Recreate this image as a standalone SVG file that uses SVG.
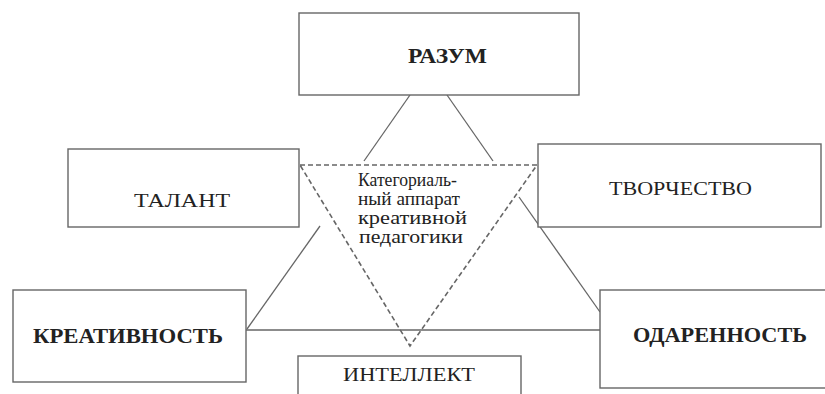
<svg xmlns="http://www.w3.org/2000/svg" width="825" height="394" viewBox="0 0 825 394" font-family="Liberation Serif">
<style>
.box{fill:#fff;stroke:#666;stroke-width:1.4}
.ln{stroke:#666;stroke-width:1.3;fill:none}
.tri{fill:none;stroke:#666;stroke-width:1.6;stroke-dasharray:5,3}
.t{fill:#222}
.b{font-weight:bold;font-size:20px}
.r{font-size:19px}
.c{font-size:18px}
</style>
<rect width="825" height="394" fill="#fff"/>
<g id="connectors">
<line class="ln" x1="410" y1="95" x2="364" y2="161"/>
<line class="ln" x1="320" y1="226" x2="247" y2="329"/>
<line class="ln" x1="447" y1="95" x2="493" y2="161"/>
<line class="ln" x1="519" y1="197" x2="600" y2="312"/>
<line class="ln" x1="246" y1="330" x2="600" y2="330"/>
</g>
<g id="razum">
<rect class="box" x="299" y="13" width="280" height="82"/>
<text class="t b" font-family="Liberation Serif" x="408" y="63" textLength="79" lengthAdjust="spacingAndGlyphs">РАЗУМ</text>
</g>
<g id="talant">
<rect class="box" x="68" y="149" width="231" height="78"/>
<text class="t r" font-family="Liberation Serif" x="134" y="207" textLength="96" lengthAdjust="spacingAndGlyphs">ТАЛАНТ</text>
</g>
<g id="tvorchestvo">
<rect class="box" x="538" y="144" width="283" height="83"/>
<text class="t r" font-family="Liberation Serif" x="609" y="195" textLength="143" lengthAdjust="spacingAndGlyphs">ТВОРЧЕСТВО</text>
</g>
<g id="kreativnost">
<rect class="box" x="13" y="290" width="233" height="92"/>
<text class="t b" font-family="Liberation Serif" x="33" y="343" textLength="190" lengthAdjust="spacingAndGlyphs">КРЕАТИВНОСТЬ</text>
</g>
<g id="intellekt">
<rect class="box" x="298" y="356" width="223" height="50"/>
<text class="t r" font-family="Liberation Serif" x="343" y="381" textLength="132" lengthAdjust="spacingAndGlyphs">ИНТЕЛЛЕКТ</text>
</g>
<g id="odarennost">
<rect class="box" x="600" y="290" width="235" height="98"/>
<text class="t b" font-family="Liberation Serif" x="633" y="342" textLength="174" lengthAdjust="spacingAndGlyphs">ОДАРЕННОСТЬ</text>
</g>
<g id="apparat">
<polygon class="tri" points="300,165 537,165 410,346"/>
<text class="t c" font-family="Liberation Serif" x="358" y="186" textLength="99" lengthAdjust="spacingAndGlyphs">Категориаль-</text>
<text class="t c" font-family="Liberation Serif" x="358" y="205" textLength="102" lengthAdjust="spacingAndGlyphs">ный аппарат</text>
<text class="t c" font-family="Liberation Serif" x="358" y="224" textLength="109" lengthAdjust="spacingAndGlyphs">креативной</text>
<text class="t c" font-family="Liberation Serif" x="359" y="243" textLength="104" lengthAdjust="spacingAndGlyphs">педагогики</text>
</g>
</svg>
